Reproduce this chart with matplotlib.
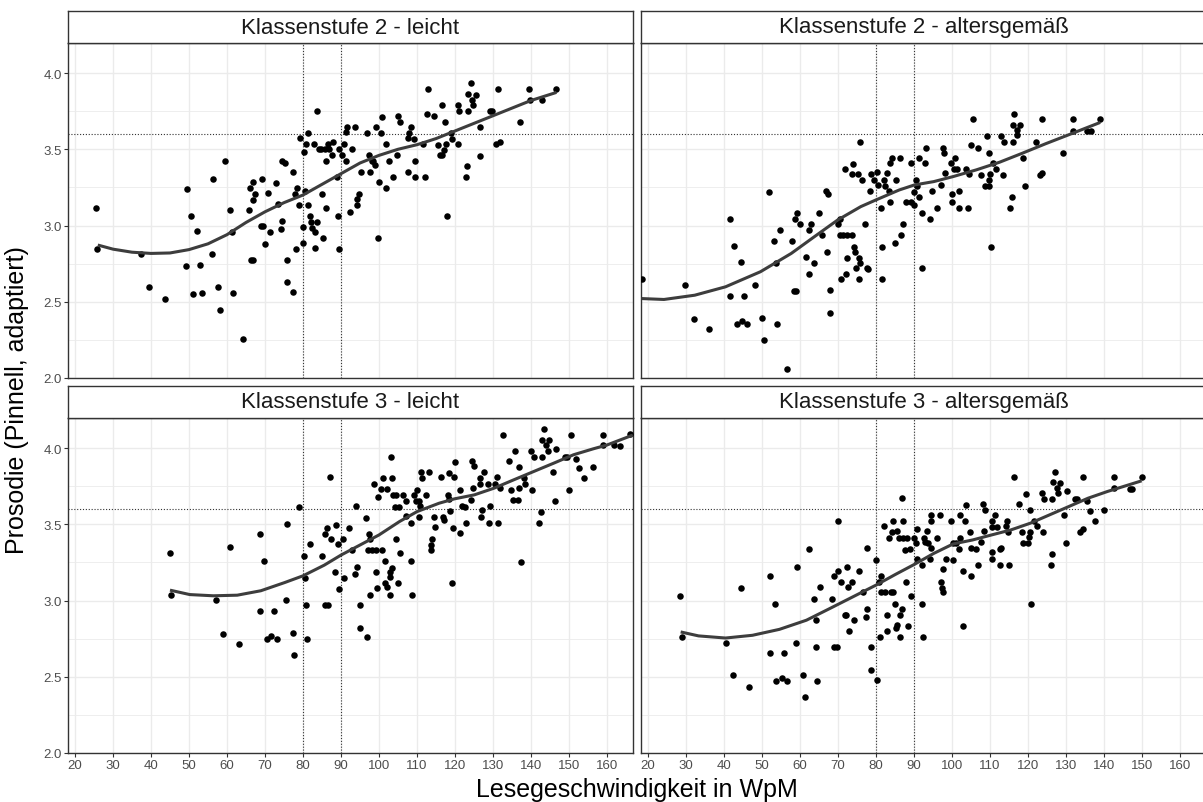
import numpy as np
import matplotlib
matplotlib.use("Agg")
from matplotlib import pyplot as plt

plt.rcParams['font.family'] = ['Liberation Sans', 'DejaVu Sans']

titles = ['Klassenstufe 2 - leicht', 'Klassenstufe 2 - altersgemäß',
          'Klassenstufe 3 - leicht', 'Klassenstufe 3 - altersgemäß']
x_ticks = list(range(20, 170, 10))
y_ticks = [2.0, 2.5, 3.0, 3.5, 4.0]
y_labels = ['2.0', '2.5', '3.0', '3.5', '4.0']
ref_x = [80, 90]
ref_y = 3.6

# Klassenstufe 2 - leicht
k2l_x = [25.4, 25.9, 37.5, 39.6, 43.7, 49.1, 49.4, 50.4, 51.0, 52.1, 52.9, 53.5, 56.0, 56.3,
         57.7, 58.2, 59.6, 60.9, 61.3, 61.7, 64.1, 65.7, 66.1, 66.3, 66.9, 66.8, 67.5, 66.9,
         68.9, 69.4, 69.3, 70.0, 70.8, 71.3, 72.8, 73.4, 74.3, 74.6, 74.5, 75.3, 75.7, 75.7,
         77.3, 77.3, 77.8, 78.3, 78.1, 78.9, 79.3, 80.0, 80.0, 80.4, 80.3, 80.9, 81.4, 81.2,
         81.9, 82.1, 82.4, 83.2, 83.8, 83.2, 83.0, 83.7, 84.3, 84.7, 85.3, 85.0, 85.8, 86.1,
         86.1, 86.5, 86.8, 87.7, 88.0, 88.9, 89.2, 89.5, 89.4, 90.3, 90.7, 91.2, 91.4, 91.6,
         92.8, 92.4, 93.7, 94.1, 94.3, 94.7, 95.3, 96.8, 97.3, 97.5, 98.1, 98.5, 98.9, 99.1,
         99.8, 99.9, 100.5, 100.7, 101.9, 101.8, 102.5, 103.6, 104.8, 105.0, 105.6, 107.5,
         107.5, 107.8, 108.5, 109.1, 109.5, 109.6, 111.6, 112.0, 112.5, 113.0, 114.5, 115.4,
         116.0, 116.5, 116.6, 117.2, 117.4, 117.6, 117.8, 118.9, 119.2, 120.7, 120.8, 121.1,
         122.8, 123.1, 123.3, 123.5, 124.1, 124.5, 124.8, 125.4, 126.6, 126.7, 129.3, 129.8,
         130.8, 131.4, 131.9, 137.1, 139.5, 139.7, 142.8, 146.7]
k2l_y = [3.117, 2.846, 2.81, 2.594, 2.52, 2.736, 3.242, 3.065, 2.554, 2.962, 2.74, 2.556,
         2.81, 3.306, 2.598, 2.449, 3.424, 3.10, 2.955, 2.556, 2.256, 3.102, 3.244, 2.773,
         2.773, 3.284, 3.207, 3.17, 2.997, 2.997, 3.304, 2.88, 3.214, 2.955, 3.281, 3.139,
         2.977, 3.032, 3.426, 3.411, 2.775, 2.631, 2.565, 3.352, 3.205, 3.244, 2.846, 3.135,
         3.573, 2.99, 2.883, 3.227, 3.485, 3.536, 3.606, 3.135, 3.063, 3.025, 2.981, 2.960,
         3.021, 2.85, 3.536, 3.748, 3.501, 3.503, 2.918, 3.209, 3.501, 3.424, 3.117, 3.536,
         3.501, 3.463, 3.551, 3.317, 3.065, 2.843, 3.503, 3.463, 3.536, 3.426, 3.612, 3.643,
         3.501, 3.089, 3.643, 3.172, 3.137, 3.209, 3.354, 3.606, 3.463, 3.354, 3.426, 3.426,
         3.398, 3.643, 2.920, 3.284, 3.606, 3.713, 3.244, 3.536, 3.424, 3.317, 3.463, 3.715,
         3.682, 3.354, 3.573, 3.606, 3.643, 3.568, 3.426, 3.317, 3.536, 3.317, 3.731, 3.895,
         3.715, 3.529, 3.463, 3.792, 3.463, 3.496, 3.678, 3.536, 3.060, 3.606, 3.568, 3.788,
         3.536, 3.748, 3.317, 3.391, 3.748, 3.86, 3.932, 3.825, 3.792, 3.858, 3.643, 3.459,
         3.752, 3.748, 3.536, 3.895, 3.551, 3.678, 3.895, 3.825, 3.825, 3.895]
k2l_fit_x = [26, 30, 35, 40, 45, 50, 55, 60, 65, 70, 75, 80, 85, 90, 95, 100, 105, 110, 115,
             120, 125, 130, 135, 140, 146.7]
k2l_fit_y = [2.872, 2.845, 2.825, 2.817, 2.82, 2.842, 2.88, 2.94, 3.02, 3.09, 3.15, 3.20,
             3.27, 3.34, 3.41, 3.46, 3.50, 3.53, 3.57, 3.62, 3.67, 3.72, 3.77, 3.82, 3.873]

# Klassenstufe 2 - altersgemaess
k2a_x = [18.3, 29.8, 32.0, 36.1, 41.5, 41.5, 42.7, 43.3, 44.5, 44.7, 45.2, 46.0, 48.2, 50.1,
         50.6, 51.9, 53.1, 53.7, 54.0, 54.8, 56.6, 58.0, 58.5, 59.0, 58.7, 59.2, 60.1, 61.7,
         62.3, 62.5, 63.0, 63.6, 65.1, 65.8, 66.8, 67.5, 67.1, 68.0, 68.0, 70.0, 70.6, 70.4,
         71.4, 72.4, 73.6, 70.7, 71.9, 72.2, 72.4, 73.6, 73.9, 74.3, 74.4, 74.7, 75.2, 75.6,
         75.9, 75.6, 75.9, 76.3, 77.1, 77.7, 78.0, 78.3, 78.8, 79.5, 80.2, 80.4, 81.3, 81.5,
         81.7, 82.0, 82.5, 82.8, 83.5, 83.7, 83.8, 84.3, 84.9, 85.3, 86.3, 86.6, 87.0, 87.8,
         89.1, 89.3, 89.9, 89.9, 90.6, 90.9, 91.3, 91.4, 92.1, 92.1, 92.9, 93.2, 94.2, 94.7,
         96.0, 97.0, 97.5, 97.8, 98.1, 99.7, 100.0, 100.1, 100.5, 100.8, 101.3, 101.8, 101.8,
         103.6, 104.1, 104.5, 104.9, 105.5, 106.9, 107.7, 108.7, 109.1, 109.7, 109.7, 110.1,
         110.2, 109.7, 110.9, 111.6, 112.9, 113.4, 113.8, 115.3, 115.7, 116.0, 116.3, 116.0,
         117.0, 117.0, 117.8, 118.8, 119.2, 122.1, 123.1, 123.8, 123.6, 129.3, 131.9, 131.9,
         135.6, 136.6, 139.0]
k2a_y = [2.646, 2.609, 2.39, 2.322, 3.043, 2.539, 2.865, 2.357, 2.762, 2.375, 2.541, 2.357,
         2.609, 2.394, 2.248, 3.222, 2.898, 2.751, 2.357, 2.970, 2.057, 2.90, 2.572, 2.572,
         3.043, 3.08, 3.01, 2.795, 2.97, 2.679, 3.01, 2.751, 3.08, 2.935, 3.227, 3.209, 2.828,
         2.576, 2.429, 3.01, 3.043, 2.935, 2.935, 2.935, 2.935, 2.646, 3.371, 2.679, 2.79,
         3.336, 3.404, 2.861, 2.828, 2.723, 3.336, 2.789, 2.751, 2.646, 3.549, 3.299, 3.01,
         2.723, 2.718, 3.227, 3.336, 3.299, 3.354, 3.266, 3.117, 2.861, 2.646, 3.299, 3.262,
         3.345, 3.227, 3.157, 3.409, 3.446, 2.887, 3.299, 3.446, 2.935, 3.01, 3.152, 3.409,
         3.152, 3.135, 3.222, 3.299, 3.262, 3.446, 3.19, 3.08, 2.723, 3.409, 3.511, 3.043,
         3.227, 3.117, 3.266, 3.511, 3.474, 3.343, 3.409, 3.205, 3.152, 3.371, 3.446, 3.371,
         3.227, 3.117, 3.371, 3.117, 3.336, 3.527, 3.696, 3.511, 3.332, 3.262, 3.59, 3.262,
         3.299, 3.336, 2.861, 3.476, 3.409, 3.371, 3.59, 3.332, 3.549, 3.117, 3.187, 3.549,
         3.733, 3.658, 3.625, 3.595, 3.656, 3.441, 3.26, 3.549, 3.332, 3.345, 3.696, 3.476,
         3.696, 3.623, 3.617, 3.617, 3.696]
k2a_fit_x = [18.3, 24.2, 32.3, 40.4, 49.6, 57.7, 63.8, 69.9, 76.0, 80.0, 86.1, 90.1, 95.2,
             100.3, 106.4, 112.5, 118.5, 124.6, 130.7, 139.0]
k2a_fit_y = [2.521, 2.515, 2.543, 2.598, 2.697, 2.817, 2.927, 3.036, 3.124, 3.168, 3.233,
             3.266, 3.288, 3.321, 3.365, 3.415, 3.474, 3.536, 3.595, 3.676]

# Klassenstufe 3 - leicht
k3l_x = [45.0, 45.3, 57.0, 59.0, 60.9, 63.2, 68.6, 68.7, 69.8, 70.5, 71.6, 72.4, 73.1, 75.4,
         75.7, 77.3, 77.6, 79.0, 80.2, 80.5, 80.7, 81.1, 81.9, 85.1, 85.7, 86.2, 85.8, 86.5,
         87.0, 87.3, 88.5, 88.8, 89.2, 89.4, 90.4, 90.8, 92.0, 92.9, 93.6, 94.0, 94.2, 95.0,
         95.1, 96.5, 96.8, 97.3, 97.5, 97.5, 97.2, 98.1, 98.8, 99.1, 99.3, 99.4, 99.8, 100.4,
         100.8, 101.0, 101.5, 102.0, 101.7, 102.0, 102.8, 103.0, 102.8, 103.2, 103.5, 103.3,
         103.6, 104.1, 104.4, 104.5, 104.9, 105.3, 105.6, 106.2, 107.0, 107.2, 108.3, 108.5,
         108.8, 109.1, 109.7, 110.0, 110.4, 110.8, 111.1, 111.2, 110.6, 112.3, 113.2, 113.6,
         113.6, 114.0, 114.5, 114.7, 116.3, 116.8, 117.0, 118.4, 118.2, 118.4, 118.6, 119.1,
         119.5, 119.7, 120.1, 121.3, 121.3, 121.8, 122.5, 123.0, 124.1, 124.4, 124.8, 125.1,
         126.7, 126.7, 126.8, 127.2, 127.6, 128.6, 128.9, 129.1, 130.5, 131.0, 131.4, 131.8,
         132.5, 134.1, 134.8, 135.3, 135.9, 136.6, 136.8, 136.9, 137.3, 138.2, 138.4, 140.0,
         140.2, 140.7, 142.0, 142.6, 142.8, 142.8, 143.5, 143.9, 144.4, 144.7, 145.7, 146.2,
         146.5, 148.9, 149.4, 150.1, 150.6, 151.8, 152.7, 153.9, 156.4, 159.0, 159.0, 161.9,
         163.4, 166.1]
k3l_y = [3.309, 3.039, 3.002, 2.783, 3.353, 2.713, 2.932, 3.436, 3.259, 2.75, 2.768, 2.932,
         2.75, 3.002, 3.5, 2.787, 2.643, 3.616, 3.292, 3.149, 2.969, 2.75, 3.368, 3.292,
         3.436, 3.474, 2.969, 2.969, 3.807, 3.404, 3.189, 3.496, 3.371, 3.075, 3.404, 3.149,
         3.474, 3.331, 3.171, 3.621, 3.221, 2.969, 2.822, 3.544, 2.759, 3.439, 3.404, 3.039,
         3.331, 3.331, 3.763, 3.331, 3.184, 3.079, 3.682, 3.732, 3.331, 3.803, 3.259, 3.732,
         3.112, 3.09, 3.189, 3.151, 3.039, 3.943, 3.803, 3.215, 3.693, 3.616, 3.404, 3.693,
         3.112, 3.616, 3.309, 3.693, 3.654, 3.555, 3.511, 3.257, 3.039, 3.689, 3.654, 3.726,
         3.654, 3.623, 3.84, 3.803, 3.55, 3.689, 3.84, 3.364, 3.331, 3.404, 3.55, 3.485,
         3.807, 3.55, 3.529, 3.836, 3.693, 3.667, 3.588, 3.112, 3.478, 3.807, 3.908, 3.726,
         3.441, 3.623, 3.616, 3.511, 3.66, 3.912, 3.737, 3.879, 3.803, 3.763, 3.55, 3.594,
         3.84, 3.763, 3.511, 3.621, 3.763, 3.807, 3.511, 3.737, 4.088, 3.912, 3.726, 3.66,
         3.982, 3.66, 3.873, 3.737, 3.254, 3.803, 3.763, 3.982, 3.726, 3.943, 3.511, 3.583,
         4.053, 3.943, 4.125, 4.022, 3.982, 4.053, 3.84, 3.654, 3.996, 3.943, 3.943, 3.726,
         4.088, 3.93, 3.868, 3.803, 3.873, 4.088, 4.022, 4.022, 4.011, 4.092]
k3l_fit_x = [45.0, 50.2, 56.4, 62.7, 68.9, 75.2, 80.0, 85.6, 90.0, 95.0, 100.0, 105.4, 110.0,
             115.8, 119.9, 125.1, 130.3, 135.5, 140.7, 146.0, 151.2, 156.4, 160.0, 166.8]
k3l_fit_y = [3.068, 3.039, 3.031, 3.035, 3.064, 3.118, 3.162, 3.232, 3.298, 3.364, 3.43,
             3.518, 3.583, 3.638, 3.667, 3.693, 3.737, 3.792, 3.846, 3.901, 3.956, 3.995,
             4.02, 4.085]

# Klassenstufe 3 - altersgemaess
k3a_x = [28.4, 28.9, 40.4, 42.5, 44.5, 46.6, 52.1, 52.0, 53.3, 53.8, 55.3, 55.9, 56.6, 58.9,
         59.2, 60.7, 61.2, 62.5, 63.7, 64.1, 64.1, 64.6, 65.3, 68.4, 69.0, 69.0, 69.9, 69.7,
         70.1, 70.7, 71.9, 72.2, 72.4, 72.7, 73.0, 73.7, 74.2, 75.6, 76.5, 77.3, 77.7, 77.7,
         78.6, 78.6, 80.0, 80.2, 80.7, 81.2, 81.1, 81.3, 82.2, 82.5, 83.0, 83.0, 83.5, 83.9,
         84.3, 84.6, 84.6, 85.1, 85.3, 85.6, 85.6, 86.1, 86.2, 86.4, 86.8, 86.8, 87.0, 87.2,
         87.6, 87.8, 88.2, 88.4, 88.9, 89.1, 89.9, 90.6, 90.9, 90.8, 92.0, 92.2, 92.4, 92.5,
         93.0, 93.4, 93.7, 94.2, 94.4, 94.6, 94.4, 96.0, 96.8, 97.2, 97.4, 97.5, 97.7, 98.3,
         99.7, 100.3, 100.3, 101.1, 102.0, 101.8, 102.0, 102.8, 102.8, 103.3, 103.8, 104.8,
         104.9, 105.1, 106.2, 106.9, 107.7, 108.1, 108.4, 108.7, 110.4, 110.6, 110.6, 110.6,
         111.4, 111.8, 112.5, 112.5, 112.8, 114.2, 114.5, 114.7, 114.9, 116.2, 117.5, 118.3,
         118.8, 119.6, 120.0, 120.3, 120.4, 120.6, 120.9, 121.6, 122.3, 123.6, 123.9, 124.3,
         126.0, 126.2, 126.4, 126.7, 127.2, 127.5, 127.9, 128.5, 129.5, 129.9, 130.2, 132.4,
         132.9, 133.8, 134.4, 134.4, 135.6, 136.4, 137.5, 140.0, 142.7, 142.7, 146.9, 147.4,
         149.9]
k3a_y = [3.031, 2.761, 2.724, 2.509, 3.079, 2.434, 3.158, 2.654, 2.980, 2.469, 2.491, 2.654,
         2.474, 2.724, 3.221, 2.509, 2.364, 3.338, 3.013, 2.871, 2.693, 2.474, 3.086, 3.013,
         3.158, 2.693, 3.195, 2.693, 3.524, 3.123, 2.908, 2.908, 3.217, 3.086, 2.798, 3.123,
         2.871, 3.195, 3.053, 2.893, 2.943, 3.342, 2.693, 2.546, 3.263, 2.48, 3.123, 3.158,
         2.761, 3.053, 3.491, 3.053, 2.908, 2.798, 3.408, 3.053, 3.452, 3.522, 3.053, 2.98,
         2.82, 3.456, 2.838, 3.412, 2.761, 2.908, 3.671, 2.943, 3.522, 3.412, 3.331, 3.123,
         3.412, 2.833, 3.338, 3.031, 3.412, 3.379, 3.469, 3.272, 3.232, 2.98, 2.761, 3.412,
         3.382, 3.456, 3.379, 3.272, 3.561, 3.524, 3.342, 3.412, 3.561, 3.123, 3.083, 3.053,
         3.204, 3.272, 3.524, 3.375, 3.265, 3.379, 3.561, 3.338, 3.412, 2.833, 3.193, 3.524,
         3.627, 3.447, 3.162, 3.342, 3.338, 3.232, 3.382, 3.632, 3.456, 3.594, 3.485, 3.32,
         3.27, 3.522, 3.561, 3.485, 3.232, 3.338, 3.342, 3.489, 3.522, 3.447, 3.232, 3.809,
         3.632, 3.447, 3.379, 3.7, 3.379, 3.414, 3.594, 3.452, 2.976, 3.522, 3.489, 3.704,
         3.447, 3.667, 3.232, 3.305, 3.667, 3.776, 3.846, 3.737, 3.704, 3.772, 3.561, 3.375,
         3.715, 3.667, 3.667, 3.452, 3.467, 3.809, 3.654, 3.59, 3.524, 3.594, 3.809, 3.741,
         3.732, 3.732, 3.809]
k3a_fit_x = [28.6, 33.3, 40.4, 47.5, 54.6, 61.7, 67.8, 73.9, 80.0, 85.1, 90.1, 95.2, 100.3,
             105.4, 110.4, 115.5, 120.6, 125.6, 130.7, 135.8, 140.9, 149.9]
k3a_fit_y = [2.794, 2.768, 2.754, 2.772, 2.811, 2.871, 2.947, 3.024, 3.101, 3.171, 3.237,
             3.309, 3.371, 3.397, 3.43, 3.463, 3.507, 3.561, 3.616, 3.671, 3.715, 3.785]

points = [(k2l_x, k2l_y), (k2a_x, k2a_y), (k3l_x, k3l_y), (k3a_x, k3a_y)]
fits = [(k2l_fit_x, k2l_fit_y), (k2a_fit_x, k2a_fit_y),
        (k3l_fit_x, k3l_fit_y), (k3a_fit_x, k3a_fit_y)]

W, H = 1203, 803
fig = plt.figure(figsize=(W / 100, H / 100), dpi=100)
fig.patch.set_facecolor('white')

# panel boxes in pixels: left, top, width, height
col_left = [68, 641]
row_top = [44, 419]
pw, ph = 565, 335
strip_h = 32
border = '#333333'

for i in range(4):
    r, c = divmod(i, 2)
    x0, y0 = col_left[c], row_top[r]
    ax = fig.add_axes([x0 / W, 1 - (y0 + ph) / H, pw / W, ph / H])
    ax.set_xlim(18.16, 166.84)
    ax.set_ylim(2.0, 4.197)

    ax.set_yticks([2.25, 2.75, 3.25, 3.75], minor=True)
    ax.grid(True, which='major', color='#EBEBEB', lw=1.0, zorder=0)
    ax.grid(True, which='minor', axis='y', color='#EBEBEB', lw=0.6, zorder=0)
    ax.set_axisbelow(True)
    ax.set_xticks(x_ticks)
    ax.set_yticks(y_ticks)

    ax.tick_params(which='minor', length=0)
    ax.tick_params(which='major', length=3, width=0.8, color=border,
                   labelsize=9.5, labelcolor='#4D4D4D', pad=1.5)
    if c == 0:
        ax.set_yticklabels(y_labels)
    else:
        ax.tick_params(axis='y', length=0, labelleft=False)
    if r == 1:
        ax.set_xticklabels([str(t) for t in x_ticks])
    else:
        ax.tick_params(axis='x', length=0, labelbottom=False)

    for s in ax.spines.values():
        s.set_color(border)
        s.set_linewidth(1.0)

    for xv in ref_x:
        ax.axvline(xv, color='#333333', ls=(0, (1, 1.6)), lw=0.8, zorder=1)
    ax.axhline(ref_y, color='#333333', ls=(0, (1, 1.6)), lw=0.8, zorder=1)

    px, py = points[i]
    ax.scatter(px, py, s=22, color='black', linewidths=0, zorder=3)
    fx, fy = fits[i]
    ax.plot(fx, fy, color='#3D3D3D', lw=2.2, solid_capstyle='butt', zorder=4)

    # facet strip
    sax = fig.add_axes([x0 / W, 1 - y0 / H, pw / W, strip_h / H])
    sax.set_xticks([])
    sax.set_yticks([])
    sax.set_facecolor('white')
    for s in sax.spines.values():
        s.set_color(border)
        s.set_linewidth(1.0)
    sax.text(0.5, 0.5, titles[i], ha='center', va='center', fontsize=16,
             color='#1A1A1A', transform=sax.transAxes)

fig.text((68 + 1206) / 2 / W, 1 - 790 / H, 'Lesegeschwindigkeit in WpM',
         ha='center', va='center', fontsize=18)
fig.text(17 / W, 1 - 400 / H, 'Prosodie (Pinnell, adaptiert)', rotation=90,
         ha='center', va='center', fontsize=18)

plt.savefig('out.png', dpi=100)
